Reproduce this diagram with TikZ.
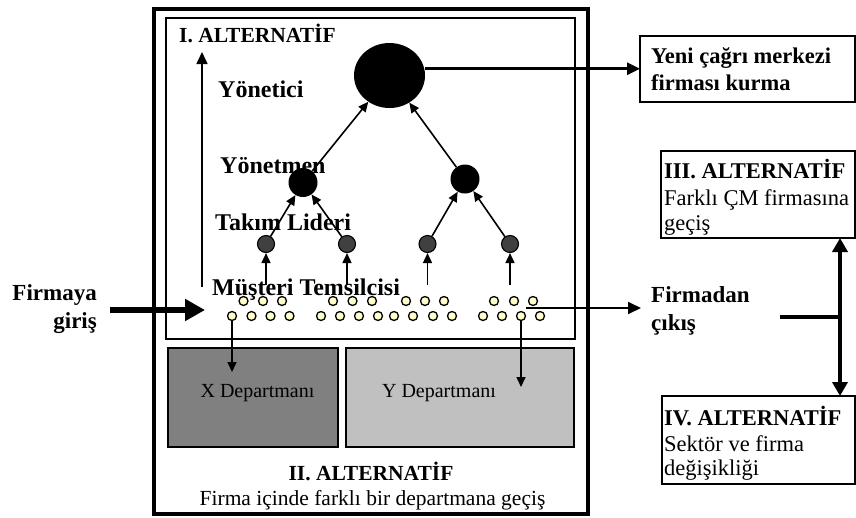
\documentclass[tikz,border=0pt]{standalone}
\usepackage{fontspec}
\setmainfont{Liberation Serif}
\usetikzlibrary{arrows.meta,shapes.geometric}
\definecolor{xdep}{HTML}{808080}
\definecolor{ydep}{HTML}{C0C0C0}
\definecolor{tlfill}{HTML}{404040}
\definecolor{repfill}{HTML}{FFFFCC}
\begin{document}
\begin{tikzpicture}[x=1pt,y=-1pt,
  box/.style={draw, anchor=north west, inner sep=0pt, outer sep=0pt},
  blbl/.style={font=\fontsize{24}{28}\selectfont\bfseries, inner sep=0pt, anchor=base west},
  bsmall/.style={font=\fontsize{22.5}{26}\selectfont\bfseries, inner sep=0pt, anchor=base west},
  rlbl/.style={font=\fontsize{22.5}{26}\selectfont, inner sep=0pt, anchor=base west},
  dlbl/.style={font=\fontsize{20}{24}\selectfont, inner sep=0pt, anchor=base},
  arr/.style={line width=1.6pt, -{Triangle[length=10pt,width=9pt]}},
  rep/.style={circle, draw, line width=1.3pt, fill=repfill, minimum size=9pt, inner sep=0pt},
  tl/.style={circle, draw, line width=1.1pt, fill=tlfill, minimum size=17pt, inner sep=0pt},
  mgr/.style={circle, fill=black, minimum size=29pt, inner sep=0pt}
]
\useasboundingbox (0,0) rectangle (856,517);

% frames
\node[box, line width=4pt, minimum width=433.5pt, minimum height=505pt] (outer) at (154,9) {};
\node[box, line width=2pt, minimum width=408.5pt, minimum height=321.5pt] (inner) at (166,17.5) {};
\node[box, line width=2.8pt, fill=xdep, minimum width=170pt, minimum height=99pt] (xd) at (168,348) {};
\node[box, line width=2pt, fill=ydep, minimum width=228pt, minimum height=99pt] (yd) at (345.5,348) {};

% right boxes
\node[box, line width=2pt, minimum width=215pt, minimum height=65.5pt] (yeni) at (640,36) {};
\node[box, line width=2pt, minimum width=194pt, minimum height=87pt] (iii) at (661,151) {};
\node[box, line width=2pt, minimum width=193pt, minimum height=88pt] (iv) at (662,396) {};

% texts
\node[font=\fontsize{21.5}{24}\selectfont\bfseries, inner sep=0pt, anchor=base west] (alt1) at (179,42) {I. ALTERNATİF};
\node[blbl] (tyon) at (218,97) {Yönetici};
\node[blbl] (tyonm) at (220,173) {Yönetmen};
\node[blbl] (ttak) at (215,230) {Takım Lideri};
\node[blbl] (tmus) at (212,295) {Müşteri Temsilcisi};

\node[dlbl] (tx) at (257.5,397) {X Departmanı};
\node[dlbl] (ty) at (439,397) {Y Departmanı};
\node[font=\fontsize{21.5}{24}\selectfont\bfseries, inner sep=0pt, anchor=base] (alt2) at (371,480) {II. ALTERNATİF};
\node[font=\fontsize{21.5}{24}\selectfont, inner sep=0pt, anchor=base] (alt2b) at (372.5,505) {Firma içinde farklı bir departmana geçiş};

\node[bsmall] (yn1) at (651,63) {Yeni çağrı merkezi};
\node[bsmall] (yn2) at (651,90) {firması kurma};

\node[bsmall] (a3) at (664,178) {III. ALTERNATİF};
\node[rlbl] (a3b) at (664,205) {Farklı ÇM firmasına};
\node[rlbl] (a3c) at (664,230) {geçiş};

\node[bsmall] (a4) at (664,425) {IV. ALTERNATİF};
\node[rlbl] (a4b) at (664,451) {Sektör ve firma};
\node[rlbl] (a4c) at (664,475) {değişikliği};

\node[blbl, font=\fontsize{23}{26}\selectfont\bfseries, anchor=base east] (fg1) at (97,300) {Firmaya};
\node[blbl, font=\fontsize{23}{26}\selectfont\bfseries, anchor=base east] (fg2) at (97,328) {giriş};
\node[blbl, font=\fontsize{23}{26}\selectfont\bfseries] (fc1) at (651,302) {Firmadan};
\node[blbl, font=\fontsize{23}{26}\selectfont\bfseries] (fc2) at (651,330) {çıkış};

% hierarchy nodes
\node[ellipse, fill=black, minimum width=71pt, minimum height=65pt, inner sep=0pt] (ell) at (389.5,75.5) {};
\node[mgr] (m1) at (303,182.5) {};
\node[mgr] (m2) at (465,179) {};
\node[tl] (t1) at (266,244) {};
\node[tl] (t2) at (347,244) {};
\node[tl] (t3) at (427.5,244) {};
\node[tl] (t4) at (510,244) {};

% connectors
\draw[arr] (m1) -- (ell);
\draw[arr] (m2) -- (ell);
\draw[arr] (t1) -- (m1);
\draw[arr] (t2) -- (m1);
\draw[arr] (t3) -- (m2);
\draw[arr] (t4) -- (m2);
\foreach \t in {t1,t2,t3,t4}{
  \coordinate (s\t) at ([yshift=-41pt]\t.center);
  \draw[arr] (s\t) -- (\t.south);
}
\coordinate (up0) at (202,287);
\coordinate (up1) at (202,52);
\draw[line width=1.6pt, -{Triangle[length=12pt,width=11pt]}] (up0) -- (up1);

\draw[line width=2.6pt, -{Triangle[length=13pt,width=12pt]}] (ell.east |- yeni.west) -- (yeni.west);

% representatives
\foreach \x [count=\i] in {243.5,263,282,333,352.5,372,406,425,444,494,514,533}
  \node[rep] (ra\i) at (\x,301) {};
\foreach \x [count=\i] in {232,251.5,270.5,289.5,321,340,359,378,394,413,433,452,483,502,521,540}
  \node[rep] (rb\i) at (\x,316) {};

\coordinate (xend) at (232,372);
\coordinate (yend) at (521,387);
\draw[arr] (rb1.south) -- (xend);
\draw[arr] (rb15.south) -- (yend);

\coordinate (ex0) at (526,308);
\coordinate (ex1) at (641,308);
\draw[line width=1.8pt, -{Triangle[length=13pt,width=12pt]}] (ex0) -- (ex1);

\coordinate (in0) at (110,310);
\coordinate (in1) at (205,310);
\draw[line width=6pt, -{Triangle[length=20pt,width=21pt]}] (in0) -- (in1);

\coordinate (jn) at (840,317);
\coordinate (jl) at (780,317);
\draw[line width=3.6pt] (jl) -- (jn);
\draw[line width=3.6pt, {Triangle[length=14pt,width=15pt]}-{Triangle[length=14pt,width=15pt]}] (iii.south -| jn) -- (iv.north -| jn);
\end{tikzpicture}
\end{document}
